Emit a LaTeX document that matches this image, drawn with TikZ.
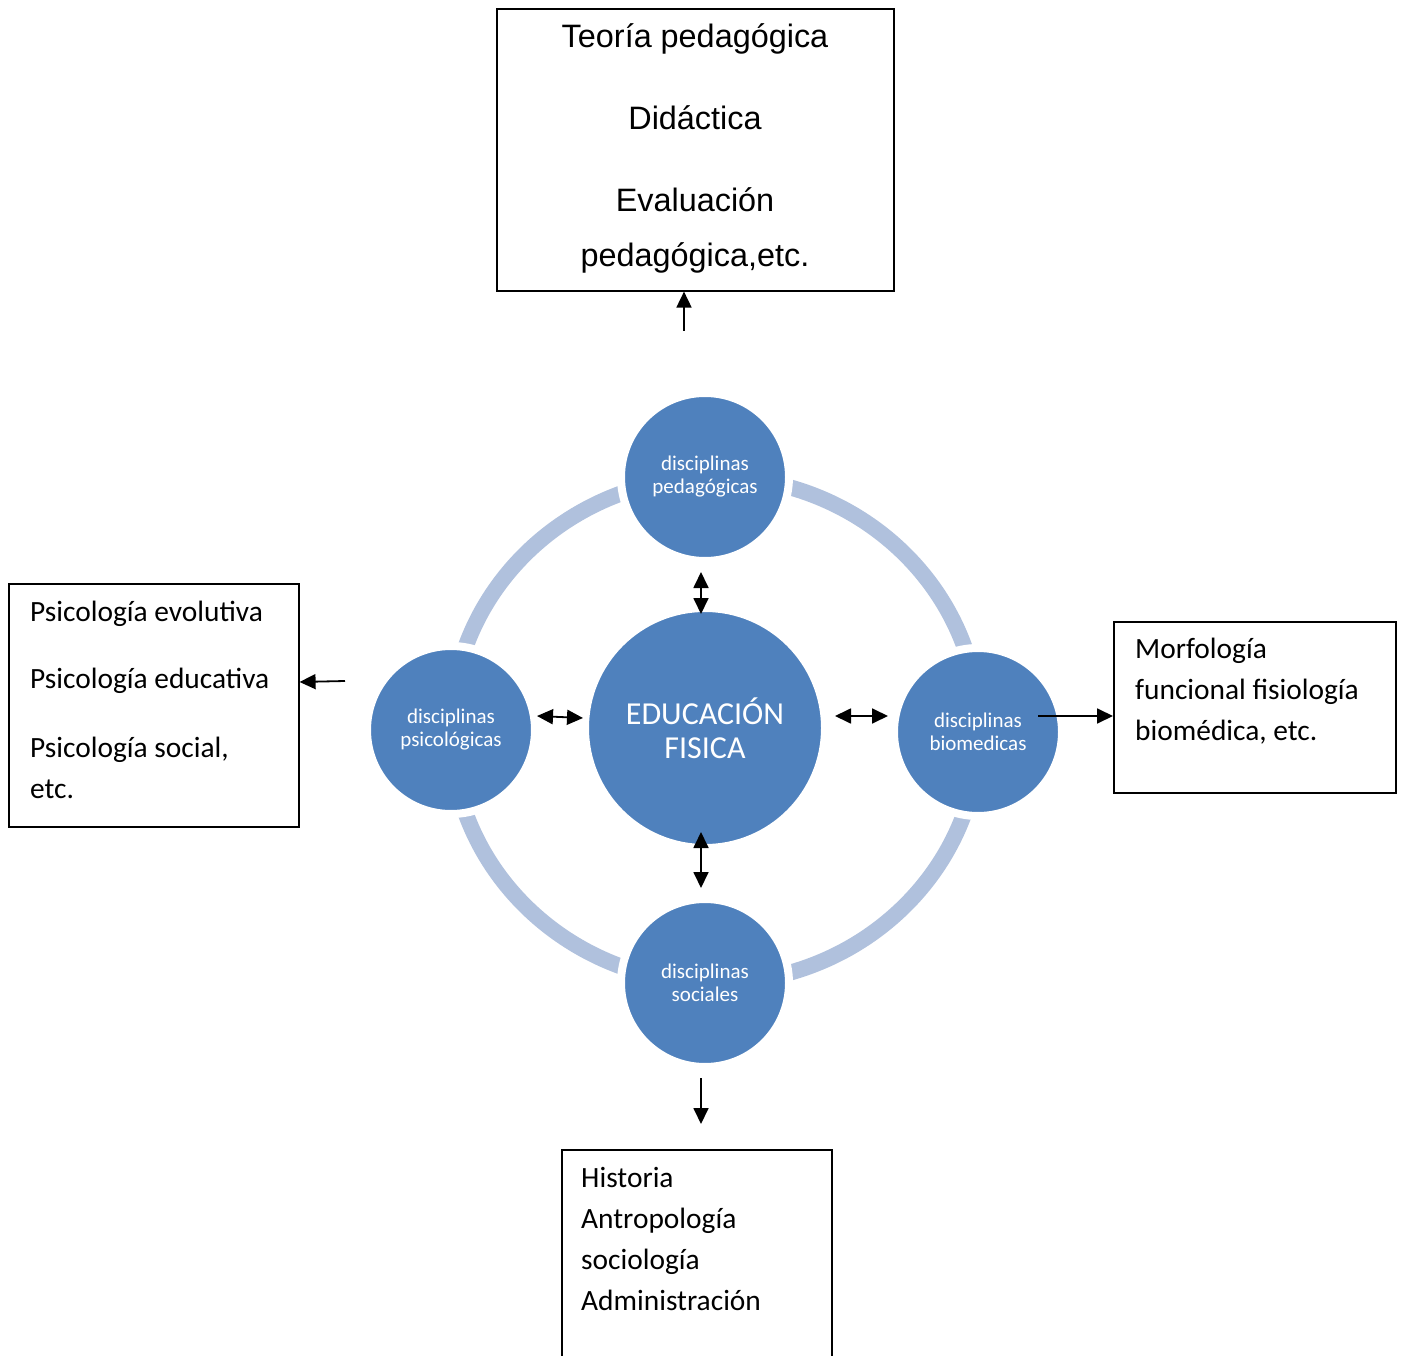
\documentclass[tikz,border=0pt]{standalone}
\usepackage{fontspec}
\setmainfont{Carlito}
\newfontfamily\arialf{Liberation Sans}
\usetikzlibrary{arrows.meta}
\definecolor{circblue}{HTML}{4F81BD}
\definecolor{ringblue}{HTML}{B0C1DD}
\begin{document}
\begin{tikzpicture}[x=1pt,y=-1pt,
  disc/.style={circle,fill=circblue,draw=white,line width=8pt,inner sep=0pt,minimum size=#1,text=white,align=center,font=\fontsize{21}{23}\selectfont},
  box/.style={draw,line width=1.6pt,rectangle,inner sep=0pt,anchor=north west},
  txt/.style={anchor=base west,inner sep=0pt,font=\fontsize{29.4}{29}\selectfont},
  ttxt/.style={anchor=base,inner sep=0pt,font=\arialf\fontsize{32.4}{32}\selectfont},
  arr/.style={line width=1.8pt,-{Triangle[length=16pt,width=15pt]}},
  darr/.style={line width=1.8pt,{Triangle[length=16pt,width=15pt]}-{Triangle[length=16pt,width=15pt]}}]
\useasboundingbox (0,0) rectangle (1401,1356);
\fill[white] (0,0) rectangle (1401,1356);
% ring
\draw[ringblue,line width=16pt] (715,730) ellipse [x radius=264pt, y radius=253pt];
% circles
\node[disc=240,font=\fontsize{32}{34}\selectfont] (ctr) at (705,728) {EDUCACIÓN\\FISICA};
\node[disc=168] (top) at (705,477) {disciplinas\\pedagógicas};
\node[disc=168] (lft) at (451,730) {disciplinas\\psicológicas};
\node[disc=168] (rgt) at (978,732) {disciplinas\\biomedicas};
\node[disc=168] (bot) at (705,983) {disciplinas\\sociales};
% boxes
\node[box,minimum width=397pt,minimum height=282pt] (tbox) at (496,8) {};
\node[box,minimum width=290pt,minimum height=243pt] (lbox) at (8,583) {};
\node[box,minimum width=282pt,minimum height=171pt] (rbox) at (1113,621) {};
\node[box,minimum width=270pt,minimum height=240pt] (bbox) at (561,1149) {};
% top box text
\node[ttxt] (t1) at (695,48) {Teoría pedagógica};
\node[ttxt] (t2) at (695,130) {Didáctica};
\node[ttxt] (t3) at (695,212) {Evaluación};
\node[ttxt] (t4) at (695,267) {pedagógica,etc.};
% left box text
\node[txt] (l1) at (30,621) {Psicología evolutiva};
\node[txt] (l2) at (30,688) {Psicología educativa};
\node[txt] (l3) at (30,757) {Psicología social,};
\node[txt] (l4) at (30,798) {etc.};
% right box text
\node[txt] (r1) at (1135,658) {Morfología};
\node[txt] (r2) at (1135,699) {funcional fisiología};
\node[txt] (r3) at (1135,740) {biomédica, etc.};
% bottom box text
\node[txt] (b1) at (581,1187) {Historia};
\node[txt] (b2) at (581,1228) {Antropología};
\node[txt] (b3) at (581,1269) {sociología};
\node[txt] (b4) at (581,1310) {Administración};
% coordinates for free ends
\coordinate (tfree) at (684,331);
\coordinate (lfree) at (345,681);
\coordinate (rstart) at (1038,716);
\coordinate (bfree) at (701,1078);
% connectors
\draw[arr] (tfree) -- (tfree |- tbox.south);
\draw[arr] (lfree) -- (lbox.east |- 0,682);
\draw[arr] (rstart) -- (rstart -| rbox.west);
\draw[arr] (bfree) -- (701,1124);
\draw[darr] ([xshift=-4pt,yshift=-7pt]top.south) -- ([xshift=-4pt,yshift=-10pt]ctr.north);
\draw[darr] ([xshift=-4pt,yshift=20pt]ctr.south) -- ([xshift=-4pt,yshift=7pt]bot.north);
\draw[darr] ([xshift=-2pt,yshift=14pt]lft.east) -- ([xshift=2pt,yshift=12pt]lft.east -| ctr.west);
\draw[darr] ([xshift=6pt,yshift=12pt]ctr.east) -- ([xshift=-2pt,yshift=12pt]ctr.east -| rgt.west);
\end{tikzpicture}
\end{document}
